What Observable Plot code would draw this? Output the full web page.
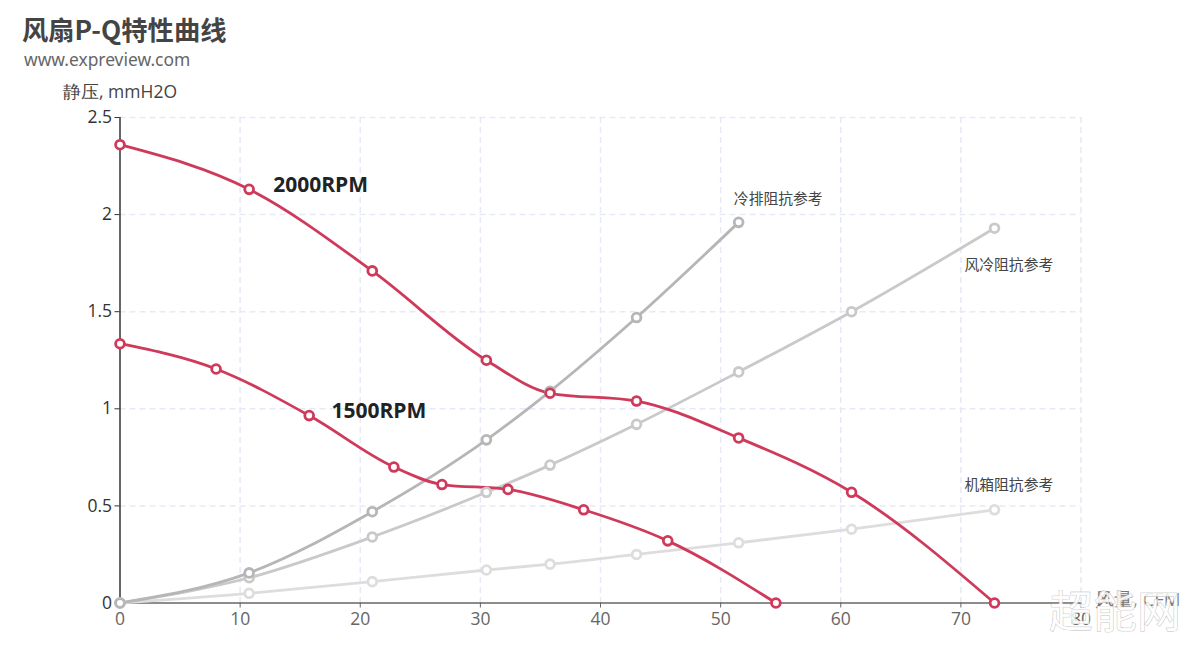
<!DOCTYPE html>
<html><head><meta charset="utf-8">
<script src="https://cdn.jsdelivr.net/npm/d3@7"></script>
<script src="https://cdn.jsdelivr.net/npm/@observablehq/plot@0.6"></script>
<style>
html,body{margin:0;padding:0;background:#fff;overflow:hidden}
#head{height:78px;position:relative}
#t{position:absolute;left:22px;top:11px;font:bold 26.3px/36px "Noto Sans CJK SC","Noto Sans",sans-serif;color:#444}
#s{position:absolute;left:24px;top:47px;font:17.4px/24px "Noto Sans","Open Sans",sans-serif;color:#666}
svg{display:block}
</style></head><body>
<div id="head"><div id="t">风扇P-Q特性曲线</div><div id="s">www.expreview.com</div></div>
<div id="chart"></div>
<script>
const xTicks=[0,10,20,30,40,50,60,70,80];
const yTicks=[0,0.5,1,1.5,2,2.5];
const q2000=[0,10.75,21,30.5,35.8,43,51.5,60.9,72.8];
const p2000=[2.36,2.13,1.71,1.25,1.08,1.04,0.85,0.57,0];
const q1500=[0,8,15.75,22.8,26.8,32.3,38.6,45.6,54.6];
const p1500=[1.335,1.205,0.965,0.70,0.61,0.585,0.48,0.32,0];
const qCool=[0,10.75,21,30.5,35.8,43,51.5];
const pCool=[0,0.155,0.47,0.84,1.09,1.47,1.96];
const qAir=[0,10.75,21,30.5,35.8,43,51.5,60.9,72.8];
const pAir=[0,0.13,0.34,0.57,0.71,0.92,1.19,1.5,1.93];
const qCase=[0,10.75,21,30.5,35.8,43,51.5,60.9,72.8];
const pCase=[0,0.05,0.11,0.17,0.20,0.25,0.31,0.38,0.48];
const toRows=(q,p)=>q.map((x,i)=>({x,y:p[i]}));
const series=[
 {rows:toRows(qCase,pCase),color:"#dddddd"},
 {rows:toRows(qAir,pAir),color:"#c9c9c9"},
 {rows:toRows(qCool,pCool),color:"#b6b6b6"},
 {rows:toRows(q1500,p1500),color:"#cf3a5a"},
 {rows:toRows(q2000,p2000),color:"#cf3a5a"}
];
const font='"Noto Sans CJK SC","Noto Sans",sans-serif';
const latin='"Open Sans","Noto Sans",sans-serif';
const seriesMarks=series.map(s=>Plot.line(s.rows,{x:"x",y:"y",stroke:s.color,strokeWidth:2.8,curve:"monotone-x"}));
const dotMarks=series.map(s=>Plot.dot(s.rows,{x:"x",y:"y",r:4.4,fill:"#fff",stroke:s.color,strokeWidth:2.8}));
const plot=Plot.plot({
 width:1200,height:586,
 marginLeft:119.5,marginRight:119.5,marginTop:39,marginBottom:61.5,
 style:{fontFamily:font,background:"#fff",overflow:"visible"},
 x:{domain:[0,80],axis:null},
 y:{domain:[0,2.5],axis:null},
 marks:[
  Plot.ruleX(xTicks.slice(1),{stroke:"#e6e9f6",strokeWidth:1.5,strokeDasharray:"6 4"}),
  Plot.ruleY(yTicks.slice(1),{stroke:"#e6e9f6",strokeWidth:1.5,strokeDasharray:"6 4"}),
  Plot.axisX({ticks:xTicks,tickSize:5,tickPadding:5,fontSize:17.5,fontFamily:latin,color:"#666",stroke:"#666",label:null,tickFormat:d=>String(d)}),
  Plot.axisY({ticks:yTicks,tickSize:5,tickPadding:3,fontSize:17.5,fontFamily:latin,color:"#333",stroke:"#333",label:null,tickFormat:d=>String(d)}),
  Plot.ruleY([0],{stroke:"#666",strokeWidth:1.5}),
  Plot.ruleX([0],{stroke:"#333",strokeWidth:1.5}),
  ...seriesMarks,
  ...dotMarks,
  Plot.text(["2000RPM"],{x:[12.75],y:[2.15],text:d=>d,textAnchor:"start",fontSize:21,fontWeight:"bold",fill:"#222",fontFamily:latin}),
  Plot.text(["1500RPM"],{x:[17.6],y:[0.985],text:d=>d,textAnchor:"start",fontSize:21,fontWeight:"bold",fill:"#222",fontFamily:latin}),
  Plot.text(["冷排阻抗参考"],{x:[51.1],y:[2.08],text:d=>d,textAnchor:"start",fontSize:14.8,fill:"#444"}),
  Plot.text(["风冷阻抗参考"],{x:[70.3],y:[1.74],text:d=>d,textAnchor:"start",fontSize:14.8,fill:"#444"}),
  Plot.text(["机箱阻抗参考"],{x:[70.3],y:[0.605],text:d=>d,textAnchor:"start",fontSize:14.8,fill:"#444"}),
  Plot.text(["静压, mmH2O"],{x:[0],y:[2.5],dy:-25,text:d=>d,fontSize:17.5,fill:"#444",fontFamily:latin}),
  Plot.text(["风量, CFM"],{x:[80],y:[0],dx:14,dy:-3,text:d=>d,textAnchor:"start",fontSize:18.5,fill:"#777",fontFamily:latin}),
  Plot.text(["超能网"],{x:[80],y:[0],dx:-32,dy:11,text:d=>d,textAnchor:"start",fontSize:44,fontWeight:"normal",fill:"#fff",fillOpacity:0.85,stroke:"#aaa",strokeWidth:0.6,letterSpacing:-1})
 ]
});
document.getElementById("chart").append(plot);
</script>
</body></html>
